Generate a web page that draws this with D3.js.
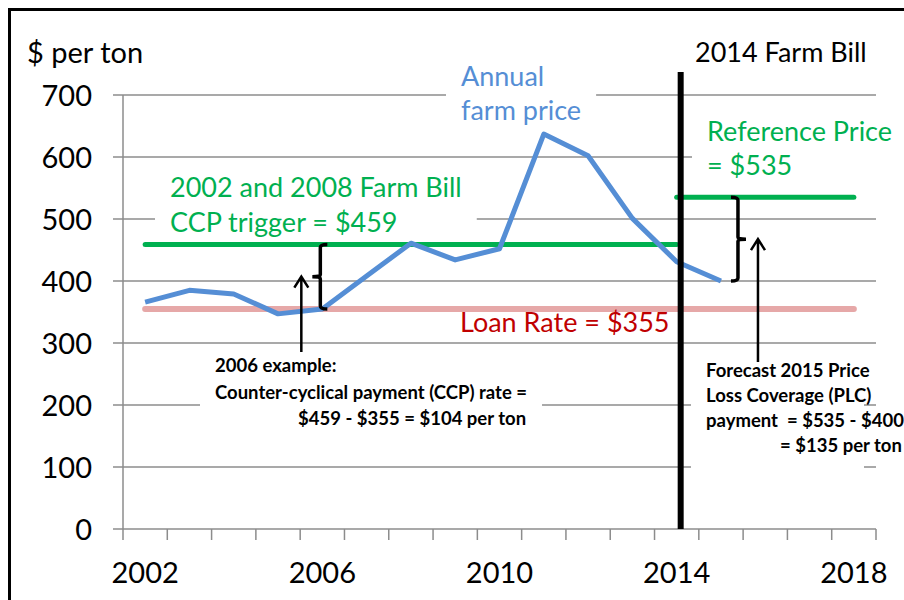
<!DOCTYPE html>
<html>
<head>
<meta charset="utf-8">
<script src="https://cdn.jsdelivr.net/npm/d3@7/dist/d3.min.js"></script>
<style>
  body { margin: 0; background: #fff; }
  text { font-family: Lato, "Open Sans", sans-serif; }
</style>
</head>
<body>
<div id="chart"></div>
<script>
// categories / values
var years = [2002, 2003, 2004, 2005, 2006, 2007, 2008, 2009, 2010, 2011, 2012, 2013, 2014, 2015, 2016, 2017, 2018];
var xLabels = [2002, 2006, 2010, 2014, 2018];
var yTicks = [0, 100, 200, 300, 400, 500, 600, 700];

var priceYears = [2002, 2003, 2004, 2005, 2006, 2007, 2008, 2009, 2010, 2011, 2012, 2013, 2014, 2015];
var farmPrice = [366, 385, 379, 347, 355, 408, 461, 434, 452, 637, 602, 501, 431, 400];

var loanRate = 355, loanYears = [2002, 2018];
var ccpTrigger = 459, ccpYears = [2002, 2014];
var refPrice = 535, refYears = [2014, 2018];
var billYear = 2014;
var plcPrice = 400;

var width = 904, height = 600;
var margin = { top: 95, right: 28, bottom: 71, left: 123 };

var svg = d3.select("#chart")
    .append("svg")
    .attr("width", width)
    .attr("height", height);

var x = d3.scaleBand()
    .domain(years)
    .range([margin.left, width - margin.right]);
var cx = function (d) { return x(d) + x.bandwidth() / 2; };

var y = d3.scaleLinear()
    .domain([0, 700])
    .range([height - margin.bottom, margin.top]);

var x0 = margin.left, x1 = width - margin.right;

// outer frame
svg.append("rect")
    .attr("x", 9.5).attr("y", 9.5)
    .attr("width", 1000).attr("height", 1000)
    .attr("fill", "none").attr("stroke", "#000").attr("stroke-width", 3);

// layers
var gridLayer = svg.append("g");
var boxLayer = svg.append("g");
var lineLayer = svg.append("g");
var textLayer = svg.append("g");

// horizontal gridlines (they also make the y tick marks)
gridLayer.selectAll("line.grid")
    .data(yTicks)
    .enter().append("line")
    .attr("x1", x0 - 10).attr("x2", x1)
    .attr("y1", function (d) { return y(d); })
    .attr("y2", function (d) { return y(d); })
    .attr("stroke", "#8c8c8c").attr("stroke-width", 1.5);

// y axis line
gridLayer.append("line")
    .attr("x1", x0).attr("x2", x0)
    .attr("y1", y(700)).attr("y2", y(0) + 11)
    .attr("stroke", "#8c8c8c").attr("stroke-width", 1.5);

// x tick marks at category boundaries
gridLayer.selectAll("line.xt")
    .data(years.slice(1).concat(["end"]))
    .enter().append("line")
    .attr("x1", function (d) { return d === "end" ? x1 : x(d); })
    .attr("x2", function (d) { return d === "end" ? x1 : x(d); })
    .attr("y1", y(0)).attr("y2", y(0) + 11)
    .attr("stroke", "#8c8c8c").attr("stroke-width", 1.5);

// y tick labels
textLayer.selectAll("text.yl")
    .data(yTicks)
    .enter().append("text")
    .attr("x", 92)
    .attr("y", function (d) { return y(d) + 11; })
    .attr("text-anchor", "end")
    .attr("font-size", 29)
    .attr("fill", "#000")
    .text(function (d) { return d; });

// x tick labels
textLayer.selectAll("text.xl")
    .data(xLabels)
    .enter().append("text")
    .attr("x", function (d) { return cx(d); })
    .attr("y", 583)
    .attr("text-anchor", "middle")
    .attr("font-size", 29)
    .attr("fill", "#000")
    .text(function (d) { return d; });

// text helper: multi-line label, optional white box behind it
function label(lines, opts) {
    var lh = opts.lh || 0;
    var t = textLayer.append("text")
        .attr("font-size", opts.size)
        .attr("font-weight", opts.bold ? "bold" : "normal")
        .attr("fill", opts.color || "#000");
    lines.forEach(function (s, i) {
        t.append("tspan")
            .attr("x", opts.x + (opts.indent ? opts.indent[i] : 0))
            .attr("y", opts.y + i * lh)
            .style("white-space", "pre")
            .text(s);
    });
    if (opts.box) {
        var b = t.node().getBBox();
        var bx = b.x - 15, by = b.y + 2;
        var bw = opts.boxRight ? opts.boxRight - bx : b.width + 30;
        var bh = opts.boxBottom ? opts.boxBottom - by : b.height - 4;
        boxLayer.append("rect")
            .attr("x", bx).attr("y", by)
            .attr("width", bw).attr("height", bh)
            .attr("fill", "#fff");
    }
    return t;
}

label(["$ per ton"], { x: 27, y: 63, size: 29 });
label(["2014 Farm Bill"], { x: 695, y: 62, size: 27 });
label(["Annual", "farm price"], { x: 461, y: 86, lh: 34, size: 27, color: "#558ed5", box: true });
label(["Reference Price", "= $535"], { x: 707, y: 141, lh: 34, size: 27, color: "#00b050", box: true });
label(["2002 and 2008 Farm Bill", "CCP trigger = $459"], { x: 170, y: 197, lh: 35, size: 27, color: "#00b050", box: true });
label(["Loan Rate = $355"], { x: 460, y: 332, size: 27, color: "#c00000" });
label(["2006 example:", "Counter-cyclical payment (CCP) rate =", "$459 - $355 = $104 per ton"],
    { x: 215, y: 372, lh: 26.5, size: 18.5, bold: true, indent: [0, 0, 83], box: true });
label(["Forecast 2015 Price", "Loss Coverage (PLC)", "payment  = $535 - $400", "= $135 per ton"],
    { x: 706, y: 377, lh: 25, size: 18.5, bold: true, indent: [0, 0, 0, 74], box: true,
      boxRight: 864, boxBottom: 472 });

// level lines
function level(value, span, color, w) {
    lineLayer.append("line")
        .attr("x1", cx(span[0])).attr("x2", cx(span[1]))
        .attr("y1", y(value)).attr("y2", y(value))
        .attr("stroke", color).attr("stroke-width", w)
        .attr("stroke-linecap", "round");
}
level(loanRate, loanYears, "#e6a8a8", 6);
level(ccpTrigger, ccpYears, "#00b050", 5);
level(refPrice, refYears, "#00b050", 5);

// annual farm price
var line = d3.line()
    .x(function (d, i) { return cx(priceYears[i]); })
    .y(function (d) { return y(d); });
lineLayer.append("path")
    .datum(farmPrice)
    .attr("d", line)
    .attr("fill", "none")
    .attr("stroke", "#558ed5")
    .attr("stroke-width", 5)
    .attr("stroke-linejoin", "round");

// 2014 farm bill divider
lineLayer.append("line")
    .attr("x1", cx(billYear) + 4).attr("x2", cx(billYear) + 4)
    .attr("y1", 72).attr("y2", y(0))
    .attr("stroke", "#000").attr("stroke-width", 6);

// braces + arrows
function brace(xv, top, bottom, dir) {
    // dir = -1 : "{" (nub left), dir = 1 : "}" (nub right)
    var mid = (top + bottom) / 2, h = -dir * 7, n = dir * 8;
    var p = d3.path();
    p.moveTo(xv + h, top);
    p.quadraticCurveTo(xv, top, xv, top + 3);
    p.lineTo(xv, mid - 2);
    p.quadraticCurveTo(xv, mid, xv + n, mid);
    p.quadraticCurveTo(xv, mid, xv, mid + 2);
    p.lineTo(xv, bottom - 3);
    p.quadraticCurveTo(xv, bottom, xv + h, bottom);
    lineLayer.append("path").attr("d", p.toString())
        .attr("fill", "none").attr("stroke", "#000").attr("stroke-width", 3.5);
}
function arrow(xv, from, to) {
    lineLayer.append("path")
        .attr("d", "M" + xv + "," + from + "V" + to + "M" + (xv - 7) + "," + (to + 11) + "L" + xv + "," + to + "L" + (xv + 7) + "," + (to + 11))
        .attr("fill", "none").attr("stroke", "#000").attr("stroke-width", 2.5);
}
brace(cx(2006) - 2, y(ccpTrigger), y(loanRate), -1);
arrow(cx(2006) - 21, 352, y((ccpTrigger + loanRate) / 2));
brace(cx(2015) + 17, y(refPrice), y(plcPrice), 1);
arrow(cx(2015) + 37, 362, y((refPrice + plcPrice) / 2));
</script>
</body>
</html>
